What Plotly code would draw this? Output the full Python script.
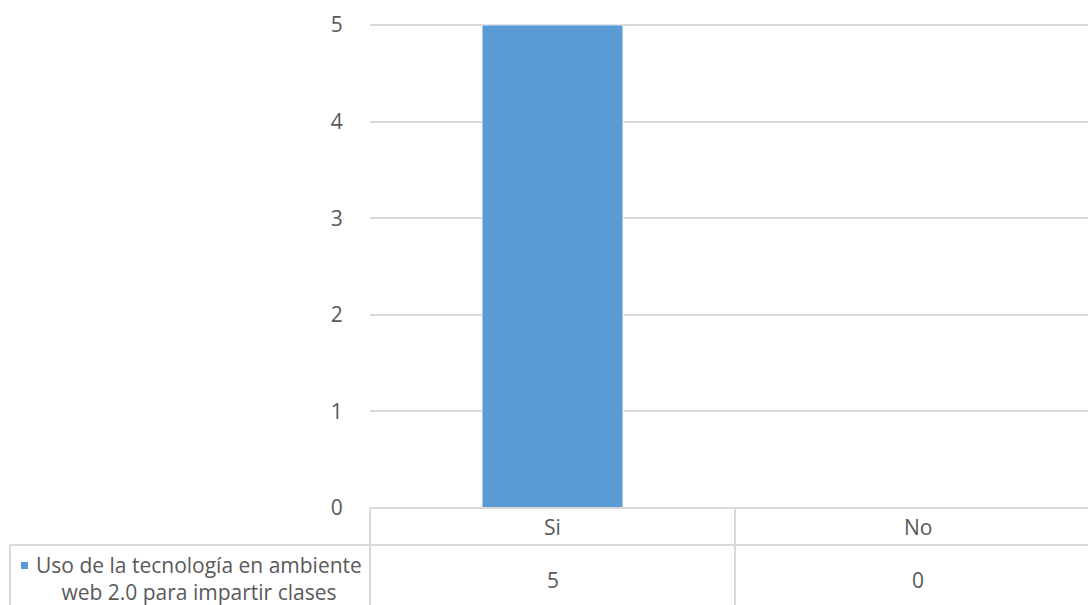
import plotly.graph_objects as go

# Chart data
categories = ["Si", "No"]
values = [5, 0]
series_name = "Uso de la tecnología en ambiente<br>web 2.0 para impartir clases"
y_ticks = [0, 1, 2, 3, 4, 5]

W, H = 1088, 605
M_L, M_R, M_T, M_B = 370, 0, 23, 97
plot_w = W - M_L - M_R
plot_h = H - M_T - M_B
CAT_PX = 365  # width of one category column in pixels
X_RANGE = [-0.5, -0.5 + plot_w / CAT_PX]

BAR_COLOR = "#5b9bd5"
GRID = "#d9d9d9"
TEXT = "#595959"
FONT = "Open Sans"
FS = 21


def py(pixel_y):
    """Pixel row -> paper y of the plot area."""
    return (H - M_B - pixel_y) / plot_h


def px(pixel_x):
    """Pixel column -> paper x of the plot area."""
    return (pixel_x - M_L) / plot_w


fig = go.Figure()
fig.add_trace(go.Bar(
    x=categories, y=values, name=series_name.replace("<br>", " "),
    marker=dict(color=BAR_COLOR, line=dict(color="#e8f0f8", width=1)),
    width=0.386,
))

# Data table below the plot area
row1_y = py(545)
bottom_y = py(H + 5)
line_style = dict(color=GRID, width=2)
shapes = [
    dict(type="line", xref="paper", yref="paper", x0=0, x1=1, y0=0, y1=0, line=line_style),
    dict(type="line", xref="paper", yref="paper", x0=px(10), x1=1,
         y0=row1_y, y1=row1_y, line=line_style),
    dict(type="line", xref="paper", yref="paper", x0=px(10), x1=px(10),
         y0=row1_y, y1=bottom_y, line=line_style),
    dict(type="line", xref="paper", yref="paper", x0=0, x1=0, y0=0, y1=bottom_y,
         line=line_style),
    # legend key of the series
    dict(type="rect", xref="paper", yref="paper", x0=px(21), x1=px(28),
         y0=py(569), y1=py(562), fillcolor=BAR_COLOR, line=dict(width=0)),
]
for i in range(len(categories) - 1):
    shapes.append(dict(type="line", xref="x", yref="paper", x0=i + 0.5, x1=i + 0.5,
                       y0=0, y1=bottom_y, line=line_style))

font = dict(size=FS, color=TEXT, family=FONT)
annotations = []
for cat, val in zip(categories, values):
    annotations.append(dict(x=cat, y=py(527), xref="x", yref="paper", text=cat,
                            showarrow=False, xanchor="center", yanchor="middle", font=font))
    annotations.append(dict(x=cat, y=py(580), xref="x", yref="paper", text=str(val),
                            showarrow=False, xanchor="center", yanchor="middle", font=font))

annotations.append(dict(x=px(199), y=py(578), xref="paper", yref="paper",
                        text=series_name, showarrow=False, align="center",
                        xanchor="center", yanchor="middle", font=font))

fig.update_layout(
    width=W, height=H,
    margin=dict(l=M_L, r=M_R, t=M_T, b=M_B),
    paper_bgcolor="white", plot_bgcolor="white",
    showlegend=False,
    xaxis=dict(range=X_RANGE, showticklabels=False,
               showgrid=False, zeroline=False, showline=False, fixedrange=True),
    yaxis=dict(range=[0, 5.02], tickvals=y_ticks, showgrid=True, gridcolor=GRID,
               gridwidth=2, zeroline=False, showline=False,
               ticks="outside", ticklen=22, tickcolor="rgba(0,0,0,0)",
               tickfont=font),
    shapes=shapes,
    annotations=annotations,
)

fig.write_html("out.html")
